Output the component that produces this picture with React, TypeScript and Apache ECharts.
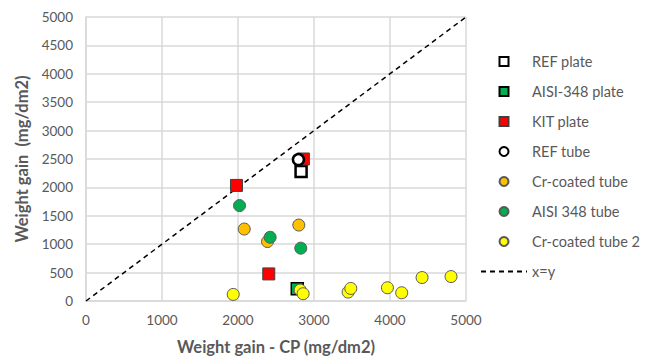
import React, { useEffect, useRef } from "react";
import * as echarts from "echarts";

const refPlate: number[][] = [[2830, 2280]];
const aisiPlate: number[][] = [[2780, 215]];
const kitPlate: number[][] = [[1980, 2035], [2860, 2500], [2405, 477]];
const refTube: number[][] = [[2795, 2490]];
const crTube: number[][] = [[2082, 1267], [2388, 1047], [2800, 1337]];
const aisiTube: number[][] = [[2020, 1680], [2423, 1122], [2826, 930]];
const crTube2: number[][] = [
  [1937, 116], [2818, 192], [2857, 128], [3449, 157], [3484, 221],
  [3966, 233], [4154, 145], [4422, 413], [4803, 430],
];
const diagonal: number[][] = [[0, 0], [5000, 5000]];
const axisMin = 0;
const axisMax = 5000;
const xInterval = 1000;
const yInterval = 500;

const FONT = "Lato, 'Open Sans', sans-serif";
const GRAY = "#595959";
const SQUARE = "path://M0,0H10V10H0Z";

export default function App() {
  const ref = useRef<HTMLDivElement>(null);
  useEffect(() => {
    if (!ref.current) return;
    const chart = echarts.init(ref.current, null, { renderer: "svg" });
    const dot = (name: string, data: number[][], symbol: string, color: string, border: string, bw: number, size: number) => ({
      name,
      type: "scatter",
      data,
      symbol,
      symbolSize: size,
      symbolKeepAspect: true,
      itemStyle: { color, borderColor: border, borderWidth: bw, opacity: 1 },
    });
    chart.setOption({
      animation: false,
      textStyle: { fontFamily: FONT },
      grid: { left: 86, right: 185, top: 17, bottom: 55 },
      xAxis: {
        type: "value",
        min: axisMin,
        max: axisMax,
        interval: xInterval,
        name: "Weight gain - CP (mg/dm2)",
        nameLocation: "middle",
        nameGap: 37,
        nameTextStyle: { color: GRAY, fontSize: 16.5, fontWeight: "bold", fontFamily: FONT },
        axisLine: { show: true, lineStyle: { color: "#D9D9D9", width: 1.5 } },
        axisTick: { show: false },
        axisLabel: { color: GRAY, fontSize: 13.5, margin: 12, fontFamily: FONT, formatter: (v: number) => String(v) },
        splitLine: { show: true, lineStyle: { color: "#D9D9D9", width: 1.5 } },
      },
      yAxis: {
        type: "value",
        min: axisMin,
        max: axisMax,
        interval: yInterval,
        name: "Weight gain  (mg/dm2)",
        nameLocation: "middle",
        nameGap: 55,
        nameTextStyle: { color: GRAY, fontSize: 16.5, fontWeight: "bold", fontFamily: FONT },
        axisLine: { show: true, lineStyle: { color: "#D9D9D9", width: 1.5 } },
        axisTick: { show: false },
        axisLabel: { color: GRAY, fontSize: 13.5, margin: 13, fontFamily: FONT, formatter: (v: number) => String(v) },
        splitLine: { show: true, lineStyle: { color: "#D9D9D9", width: 1.5 } },
      },
      legend: {
        orient: "vertical",
        left: 475,
        top: 49,
        itemWidth: 46,
        itemHeight: 9,
        itemGap: 15,
        textStyle: { color: GRAY, fontSize: 14.5, fontFamily: FONT },
        data: [
          "REF plate", "AISI-348 plate", "KIT plate", "REF tube",
          "Cr-coated tube", "AISI 348 tube", "Cr-coated tube 2",
          { name: "x=y", itemStyle: { opacity: 0 } },
        ],
      },
      series: [
        {
          name: "x=y",
          type: "line",
          data: diagonal,
          symbol: "none",
          itemStyle: { color: "#000000", opacity: 0 },
          lineStyle: { color: "#000000", width: 1.5, type: [5, 4] },
          z: 1,
        },
        dot("REF plate", refPlate, SQUARE, "#FFFFFF", "#000000", 2.5, 11),
        dot("AISI-348 plate", aisiPlate, SQUARE, "#00B050", "#000000", 1.5, 12),
        dot("KIT plate", kitPlate, SQUARE, "#FF0000", "#404040", 1, 12),
        dot("REF tube", refTube, "circle", "#FFFFFF", "#000000", 2.5, 11),
        dot("Cr-coated tube", crTube, "circle", "#FFC000", "#595959", 1, 12),
        dot("AISI 348 tube", aisiTube, "circle", "#00B050", "#595959", 1, 12),
        dot("Cr-coated tube 2", crTube2, "circle", "#FFFF00", "#595959", 1, 12),
      ],
    });
    return () => chart.dispose();
  }, []);
  return <div ref={ref} style={{ width: 651, height: 360, position: "absolute", left: 0, top: 0, background: "#fff" }} />;
}
